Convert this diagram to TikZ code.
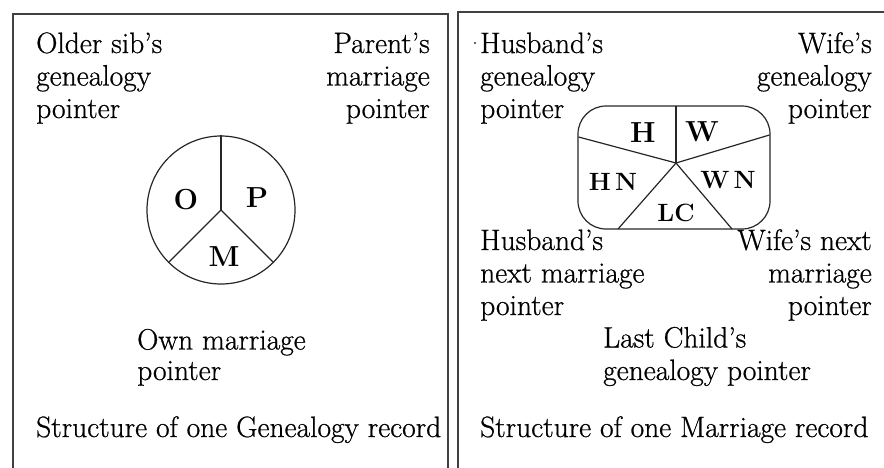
\documentclass[tikz,border=0pt]{standalone}
\usepackage{fontspec}
\newfontfamily\lmthick{Latin Modern Roman}[FakeBold=0.7,Ligatures=TeX]
\begin{document}
\begin{tikzpicture}[x=1pt,y=-1pt,
  lbl/.style={inner sep=0pt,font=\lmthick\fontsize{29.5}{32.5}\selectfont},
  lblL/.style={lbl,align=left,anchor=base west},
  lblR/.style={lbl,align=right,anchor=base east},
  big/.style={inner sep=0pt,font=\fontsize{29}{30}\selectfont\bfseries},
  small/.style={inner sep=0pt,font=\fontsize{25}{26}\selectfont\bfseries},
  frame/.style={line width=1.6pt,draw=black!75},
  outl/.style={line width=1.2pt,draw=black!85}]
\useasboundingbox (0,0) rectangle (884,467);
% frames
\draw[frame] (13,470) -- (13,14) -- (448,14) -- (448,470);
\draw[frame] (458,470) -- (458,12) -- (886,12);
% left panel (anchors at the baseline of the last line)
\node[lblL] (os) at (36,118) {Older sib’s\\genealogy\\pointer};
\node[lblR] (pm) at (430,118) {Parent’s\\marriage\\pointer};
\node[lblL,font=\lmthick\fontsize{29.5}{30.5}\selectfont] (om) at (137,380) {Own marriage\\pointer};
\node[lblL] (t1) at (36,437) {Structure of one Genealogy record};
\node[outl,circle,minimum size=148pt,inner sep=0pt] (pie) at (221,210) {};
\draw[outl] (pie.center) -- (pie.90);
\draw[outl] (pie.center) -- (pie.225);
\draw[outl] (pie.center) -- (pie.315);
\node[big] (O) at (186,200) {O};
\node[big] (P) at (257,198) {P};
\node[big] (M) at (224,257) {M};
% right panel
\fill[black!80] (475,43) circle (1.1pt);
\node[lblL] (hg) at (480,118) {Husband’s\\genealogy\\pointer};
\node[lblR] (wg) at (872,118) {Wife’s\\genealogy\\pointer};
\node[lblL] (hn) at (480,315) {Husband’s\\next marriage\\pointer};
\node[lblR] (wn) at (872,315) {Wife’s next\\marriage\\pointer};
\node[lblL] (lc) at (603,380) {Last Child’s\\genealogy pointer};
\node[lblL] (t2) at (480,437) {Structure of one Marriage record};
\node[outl,rectangle,rounded corners=28pt,minimum width=192pt,minimum height=123pt,inner sep=0pt] (rec) at (674,167.5) {};
\coordinate (hub) at (676,163);
\coordinate (eT) at (676,106);
\coordinate (eUL) at (578.6,137);
\coordinate (eUR) at (769.4,135);
\coordinate (eLL) at (618,229);
\coordinate (eLR) at (732,229);
\draw[outl] (hub) -- (eT);
\draw[outl] (hub) -- (eUL);
\draw[outl] (hub) -- (eUR);
\draw[outl] (hub) -- (eLL);
\draw[outl] (hub) -- (eLR);
\node[big] (H) at (643,133) {H};
\node[big] (W) at (702,132) {W};
\node[small] (HN) at (613,182) {H\,N};
\node[small] (WN) at (728,180) {W\,N};
\node[small] (LC) at (676,213) {LC};
\end{tikzpicture}
\end{document}
